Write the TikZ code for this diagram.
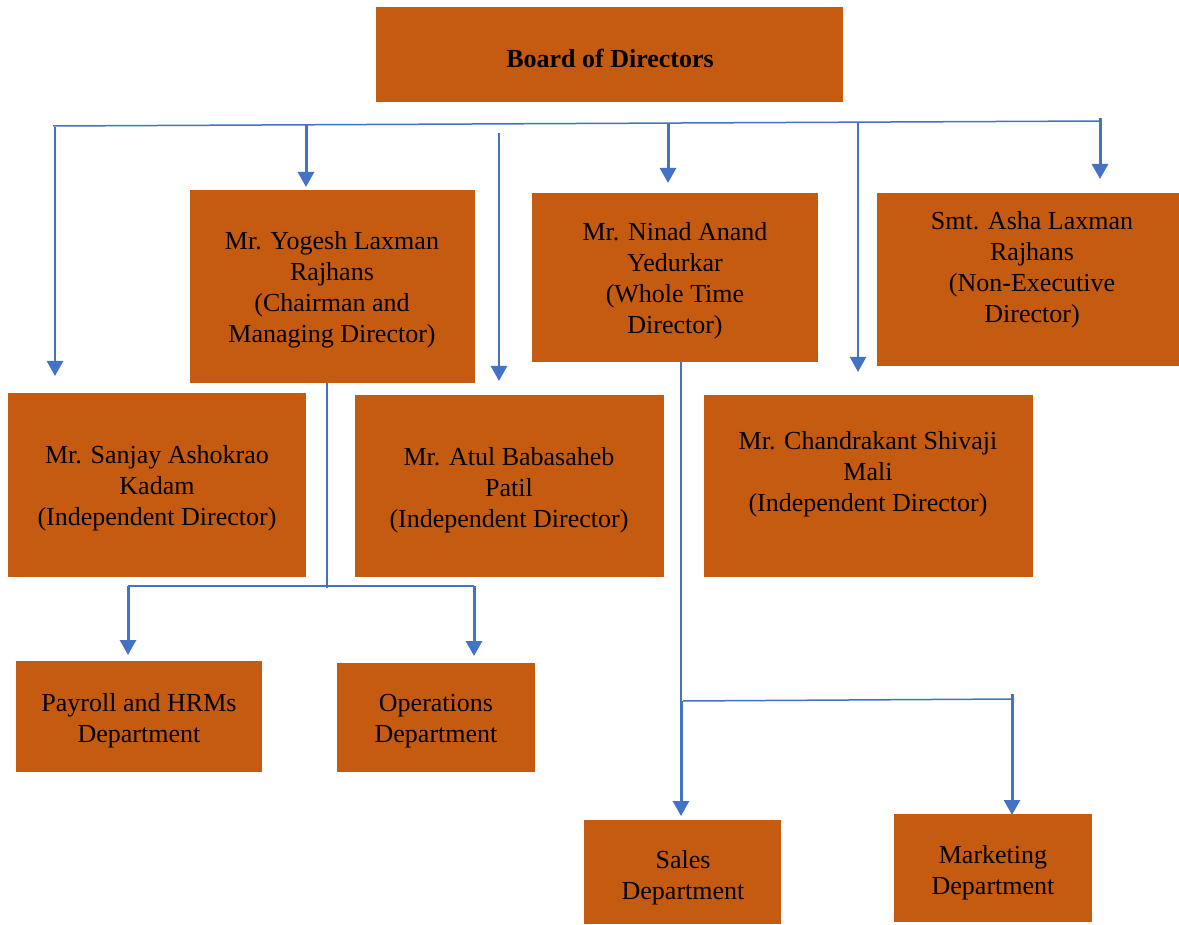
\documentclass[tikz,border=0pt]{standalone}
\usepackage{fontspec}
\setmainfont{Liberation Serif}
\usetikzlibrary{arrows.meta}
\definecolor{boxorange}{HTML}{C55A11}
\definecolor{linkblue}{HTML}{4472C4}
\begin{document}
\begin{tikzpicture}[x=1pt,y=-1pt,
  box/.style={fill=boxorange, draw=none, inner sep=0pt, outer sep=0pt},
  txt/.style={align=center, inner sep=0pt, font=\fontsize{26}{31}\selectfont, text=black},
  bus/.style={draw=linkblue, line width=1.5pt},
  arr/.style={draw=linkblue, line width=3pt, -{Triangle[width=16pt,length=15pt]}},
  thinline/.style={draw=linkblue, line width=1.3pt}]
\useasboundingbox (0,0) rectangle (1179,925);
\fill[white] (0,0) rectangle (1179,925);

% boxes
\node[box, minimum width=467pt, minimum height=95pt] (board) at (609.5,54.5) {};
\node[box, minimum width=285pt, minimum height=193pt] (yogesh) at (332.5,286.5) {};
\node[box, minimum width=286pt, minimum height=169pt] (ninad) at (675,277.5) {};
\node[box, minimum width=302pt, minimum height=173pt] (asha) at (1028,279.5) {};
\node[box, minimum width=298pt, minimum height=184pt] (sanjay) at (157,485) {};
\node[box, minimum width=309pt, minimum height=182pt] (atul) at (509.5,486) {};
\node[box, minimum width=329pt, minimum height=182pt] (chandra) at (868.5,486) {};
\node[box, minimum width=246pt, minimum height=111pt] (payroll) at (139,716.5) {};
\node[box, minimum width=198pt, minimum height=109pt] (ops) at (436,717.5) {};
\node[box, minimum width=197pt, minimum height=104pt] (sales) at (682.5,872) {};
\node[box, minimum width=198pt, minimum height=108pt] (mkt) at (993,868) {};

% texts
\node[txt, font=\fontsize{26}{31}\selectfont\bfseries] (tboard) at (610,58) {Board of Directors};
\node[txt] (tyogesh) at (332,290) {Mr. Yogesh Laxman\\Rajhans\\(Chairman and\\Managing Director)};
\node[txt] (tninad) at (675,281) {Mr. Ninad Anand\\Yedurkar\\(Whole Time\\Director)};
\node[txt] (tasha) at (1032,269.5) {Smt. Asha Laxman\\Rajhans\\(Non-Executive\\Director)};
\node[txt] (tsanjay) at (157,488.5) {Mr. Sanjay Ashokrao\\Kadam\\(Independent Director)};
\node[txt] (tatul) at (509,490) {Mr. Atul Babasaheb\\Patil\\(Independent Director)};
\node[txt] (tchandra) at (868,474) {Mr. Chandrakant Shivaji\\Mali\\(Independent Director)};
\node[txt] (tpayroll) at (139,721) {Payroll and HRMs\\Department};
\node[txt] (tops) at (436,721.5) {Operations\\Department};
\node[txt] (tsales) at (683,877.5) {Sales\\Department};
\node[txt] (tmkt) at (993,873) {Marketing\\Department};

% top bus
\coordinate (busL) at (53,126);
\coordinate (busR) at (1101,121);
\draw[bus] (busL) -- (busR);
\coordinate (a1s) at (55,127);   \coordinate (a1e) at (55,376);
\coordinate (a2s) at (306,125);  \coordinate (a2e) at (306,187);
\coordinate (a3s) at (499,133);  \coordinate (a3e) at (499,381);
\coordinate (a4s) at (668,123);  \coordinate (a4e) at (668,183);
\coordinate (a5s) at (858,123);  \coordinate (a5e) at (858,372);
\coordinate (a6s) at (1100,118); \coordinate (a6e) at (1100,179);
\draw[arr, line width=2.5pt] (a1s) -- (a1e);
\draw[arr] (a2s) -- (a2e);
\draw[arr, line width=2.5pt] (a3s) -- (a3e);
\draw[arr] (a4s) -- (a4e);
\draw[arr, line width=2.2pt] (a5s) -- (a5e);
\draw[arr] (a6s) -- (a6e);

% Yogesh branch
\coordinate (ys) at (327,383);
\coordinate (yj) at (327,588);
\coordinate (ybL) at (128,586);
\coordinate (ybR) at (474,586);
\coordinate (ya1) at (128,655);
\coordinate (ya2) at (474,656);
\draw[thinline] (ys) -- (yj);
\draw[bus, line width=2pt] (ybL) -- (ybR);
\draw[arr] (ybL) -- (ya1);
\draw[arr] (ybR) -- (ya2);

% Ninad branch
\coordinate (ns) at (681,362);
\coordinate (nj) at (681,701);
\coordinate (ne1) at (681,816);
\coordinate (nbL) at (683,701);
\coordinate (nbR) at (1014,699);
\coordinate (nr) at (1012,694);
\coordinate (ne2) at (1012,815);
\draw[thinline] (ns) -- (nj);
\draw[bus] (nbL) -- (nbR);
\draw[arr] (nj) -- (ne1);
\draw[arr] (nr) -- (ne2);
\end{tikzpicture}
\end{document}
